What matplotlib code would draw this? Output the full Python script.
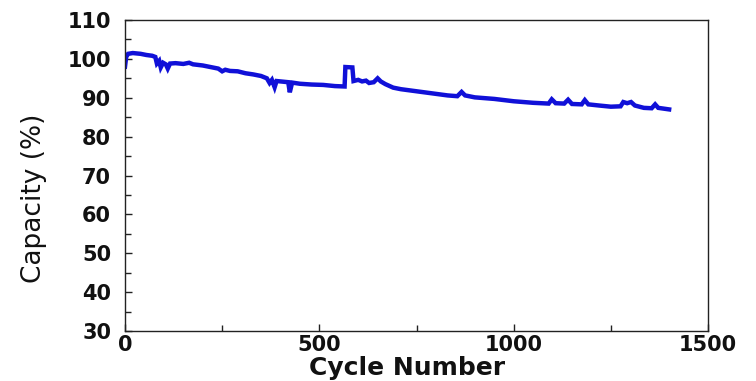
import matplotlib
matplotlib.use("Agg")
import matplotlib.pyplot as plt
from matplotlib.ticker import MultipleLocator

# Capacity retention over cycling
cycles = [0, 3, 8, 20, 40, 55, 70, 78, 82, 88, 92, 98, 105, 110, 116, 130, 150,
          165, 175, 200, 220, 240, 250, 258, 270, 290, 310, 330, 350, 365, 372,
          378, 385, 390, 400, 420, 424, 430, 450, 480, 510, 540, 565, 567, 585,
          588, 600, 610, 620, 628, 640, 650, 658, 670, 690, 710, 740, 770, 800,
          830, 855, 866, 875, 900, 950, 1000, 1050, 1090, 1098, 1108, 1130, 1140,
          1150, 1175, 1183, 1192, 1220, 1250, 1275, 1282, 1292, 1302, 1312, 1335,
          1355, 1364, 1372, 1400]
capacity = [98.0, 100.5, 101.3, 101.5, 101.3, 101.0, 100.8, 100.5, 98.8, 99.5,
            97.8, 99.0, 98.6, 97.5, 98.8, 98.9, 98.7, 99.0, 98.6, 98.3, 97.9,
            97.5, 96.8, 97.2, 96.9, 96.8, 96.3, 96.0, 95.6, 95.0, 93.8, 94.6,
            92.7, 94.3, 94.2, 94.0, 91.4, 93.9, 93.6, 93.4, 93.3, 93.0, 92.9,
            97.9, 97.8, 94.3, 94.6, 94.2, 94.4, 93.8, 94.0, 95.0, 94.2, 93.5,
            92.6, 92.2, 91.8, 91.4, 91.0, 90.6, 90.4, 91.5, 90.6, 90.1, 89.7,
            89.1, 88.7, 88.5, 89.6, 88.6, 88.5, 89.5, 88.4, 88.3, 89.4, 88.3,
            88.0, 87.7, 87.8, 88.9, 88.6, 88.9, 88.0, 87.4, 87.3, 88.3, 87.4,
            87.0]

x_ticks = [0, 500, 1000, 1500]
y_ticks = [30, 40, 50, 60, 70, 80, 90, 100, 110]

fig = plt.figure(figsize=(7.56, 3.81), dpi=100)
ax = fig.add_axes([125 / 756, 50 / 381, 583 / 756, 311 / 381])

ax.plot(cycles, capacity, color="#1010d8", linewidth=3.2, solid_joinstyle="miter")

ax.set_xlim(0, 1500)
ax.set_ylim(30, 110)
ax.set_xticks(x_ticks)
ax.set_yticks(y_ticks)
ax.xaxis.set_minor_locator(MultipleLocator(250))
ax.yaxis.set_minor_locator(MultipleLocator(5))

ax.tick_params(which="both", direction="in", top=False, right=False,
               width=1.0, color="#222222")
ax.tick_params(which="major", length=5)
ax.tick_params(which="minor", length=4)
ax.tick_params(axis="y", which="major", pad=10)
ax.tick_params(axis="x", which="major", pad=3)

for lbl in ax.get_xticklabels() + ax.get_yticklabels():
    lbl.set_fontfamily("DejaVu Sans")
    lbl.set_fontweight("bold")
    lbl.set_fontsize(15)
    lbl.set_color("#111111")

for sp in ax.spines.values():
    sp.set_linewidth(1.0)
    sp.set_color("#222222")

ax.set_xlabel("Cycle Number", fontfamily="DejaVu Sans", fontweight="bold",
              fontsize=18, color="#111111")
ax.xaxis.set_label_coords((407 - 125) / 583, (331 - 380) / 311)
ax.xaxis.label.set_va("bottom")

ax.set_ylabel("Capacity (%)", fontfamily="DejaVu Sans", fontsize=19,
              color="#111111")
ax.yaxis.set_label_coords((34 - 125) / 583, (331 - 198) / 311)
ax.yaxis.label.set_va("center")

fig.savefig("out.png", dpi=100)
